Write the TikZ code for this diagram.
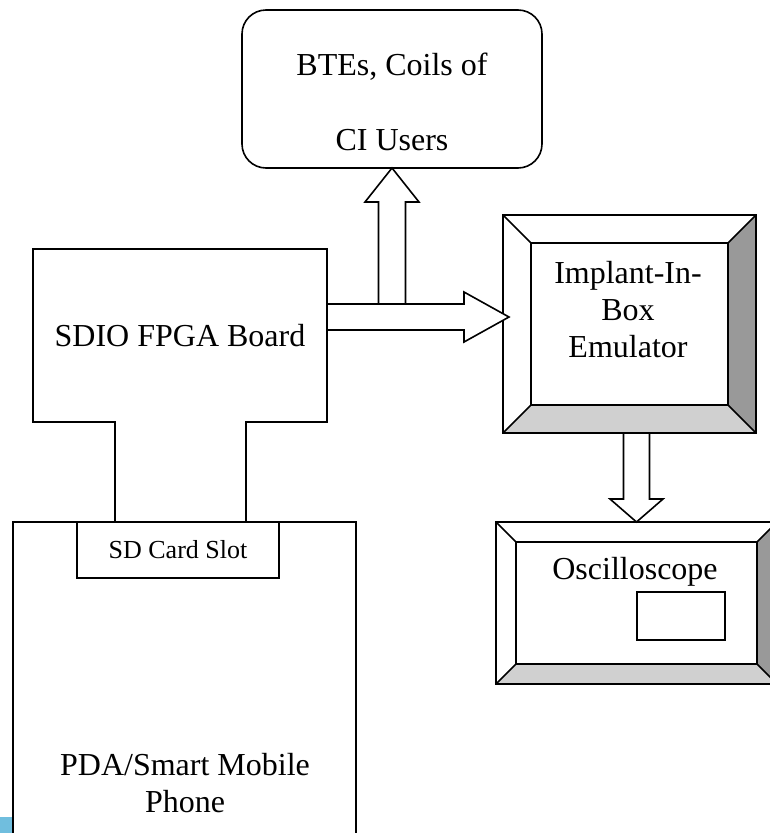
\documentclass[tikz,border=0pt]{standalone}
\usepackage{fontspec}
\setmainfont{Liberation Serif}
\usetikzlibrary{calc,positioning}

\definecolor{bevdark}{RGB}{153,153,153}
\definecolor{bevlight}{RGB}{208,208,208}
\definecolor{stripeblue}{RGB}{112,190,222}

% framed box with bevelled edges: #1 node name, #2 bevel width
\newcommand{\bevelframe}[2]{%
  \coordinate (#1-a) at ([shift={(#2,#2)}]#1.north west);
  \coordinate (#1-b) at ([shift={(-#2,#2)}]#1.north east);
  \coordinate (#1-c) at ([shift={(-#2,-#2)}]#1.south east);
  \coordinate (#1-d) at ([shift={(#2,-#2)}]#1.south west);
  \fill[bevdark] (#1.north east) -- (#1.south east) -- (#1-c) -- (#1-b) -- cycle;
  \fill[bevlight] (#1.south west) -- (#1.south east) -- (#1-c) -- (#1-d) -- cycle;
  \draw[outline] (#1.north west) rectangle (#1.south east) (#1-a) rectangle (#1-c)
    (#1.north west) -- (#1-a) (#1.north east) -- (#1-b)
    (#1.south east) -- (#1-c) (#1.south west) -- (#1-d);
}

% hollow block arrow: #1 start, #2 tip, #3 shaft half width, #4 head half width, #5 head length
\newcommand{\blockarrow}[5]{%
  \coordinate (ba-h) at ($(#2)!#5pt!(#1)$);
  \draw[outline, fill=white] ($(#1)!#3pt!90:(#2)$) -- ($(ba-h)!#3pt!90:(#2)$)
    -- ($(ba-h)!#4pt!90:(#2)$) -- (#2) -- ($(ba-h)!#4pt!-90:(#2)$)
    -- ($(ba-h)!#3pt!-90:(#2)$) -- ($(#1)!#3pt!-90:(#2)$) -- cycle;
}

\begin{document}
\begin{tikzpicture}[x=1pt, y=-1pt,
    outline/.style={draw=black, line width=1.6pt, line join=miter},
    shell/.style={rectangle, outer sep=0pt, inner sep=0pt},
    block/.style={shell, outline},
    txt/.style={font=\fontsize{32}{37}\selectfont, align=center},
    smalltxt/.style={font=\fontsize{26}{30}\selectfont}
]
\useasboundingbox (0,0) rectangle (770,833);

% stray strip
\fill[stripeblue] (0,817) rectangle (12,833);

% BTE box
\node[block, rounded corners=24pt, minimum width=300pt, minimum height=158pt] (bte) at (392,89) {};
\node[txt] (btetext) at ($(bte.center)+(0,13)$) {BTEs, Coils of\\[38pt]CI Users};

% SDIO board
\node[txt, shell, minimum width=294pt, minimum height=173pt] (board) at (180,335.5) {SDIO FPGA Board};
\coordinate (legL) at (115,522);
\coordinate (legR) at (246,522);
\draw[outline] (legL) -- (board.south west -| legL) -- (board.south west) -- (board.north west)
  -- (board.north east) -- (board.south east) -- (board.south east -| legR) -- (legR);

% phone
\node[block, minimum width=343pt, minimum height=330pt] (phone) at (184.5,687) {};
\node[txt] (phonetext) at (185,783) {PDA/Smart Mobile\\Phone};
\node[block, fill=white, smalltxt, minimum width=202pt, minimum height=56pt] (slot) at (178,550) {SD Card Slot};

% implant emulator
\node[shell, minimum width=253pt, minimum height=218pt] (implant) at (629.5,324) {};
\bevelframe{implant}{28}
\node[txt] (implanttext) at (628,309.5) {Implant-In-\\Box\\Emulator};

% oscilloscope
\node[shell, minimum width=281pt, minimum height=162pt] (scope) at (636.5,603) {};
\bevelframe{scope}{20}
\node[txt] (scopetext) at (635,572) {Oscilloscope};
\node[block, minimum width=88pt, minimum height=48pt] (screen) at (681,616) {};

% block arrows
\coordinate (rs) at ([yshift=18.5pt]board.east);
\coordinate (rt0) at (rs -| implant.west);
\coordinate (rt) at ([xshift=6pt]rt0);
\coordinate (us0) at (rs -| bte.south);
\coordinate (us) at ([yshift=13pt]us0);
\coordinate (ds) at ([xshift=7pt]implant.south);
\coordinate (dt) at (ds |- scope.north);
\blockarrow{us}{bte.south}{13.5}{27}{34}
\blockarrow{rs}{rt}{13}{25}{45}
\blockarrow{ds}{dt}{13}{26.5}{23}

\end{tikzpicture}
\end{document}
